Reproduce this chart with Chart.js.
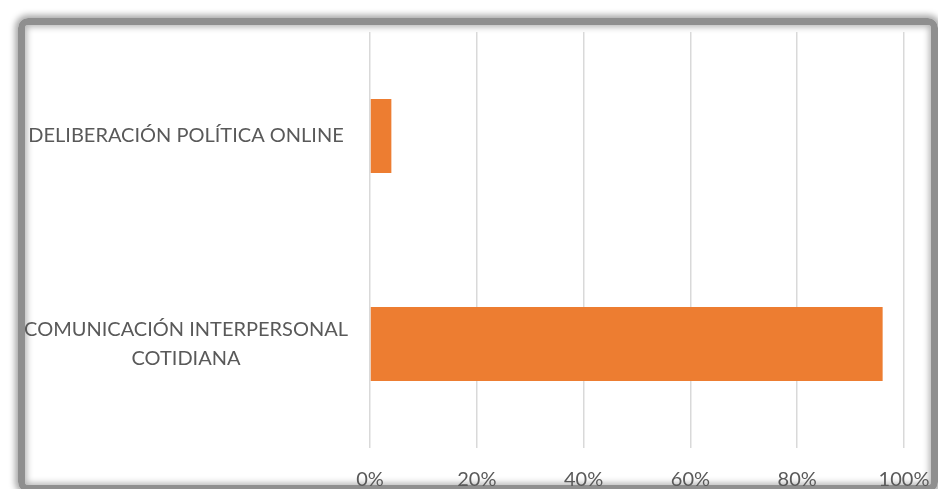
<!DOCTYPE html>
<html>
<head>
<meta charset="utf-8">
<script src="https://cdn.jsdelivr.net/npm/chart.js@4/dist/chart.umd.min.js"></script>
<style>
  html, body { margin: 0; padding: 0; background: #fff; overflow: hidden; }
  #wrap { position: relative; width: 938px; height: 489px; }
  #frame {
    position: absolute; left: 18px; top: 18px; width: 906px; height: 460px;
    border: 7px solid #8f8f8f; border-radius: 10px;
    box-shadow: 0 0 6px 3px #a8a8a8, inset 0 0 6px 2px #b5b5b5;
  }
  #chart { position: absolute; left: 0; top: 0; }
</style>
</head>
<body>
<div id="wrap">
  <div id="frame"></div>
  <canvas id="chart" width="938" height="489"></canvas>
</div>
<script>
// categories, top to bottom
var categories = ["DELIBERACIÓN POLÍTICA ONLINE", ["COMUNICACIÓN INTERPERSONAL", "COTIDIANA"]];
// share of responses, in percent
var shares = [4, 96];

var ctx = document.getElementById("chart");
var chart = new Chart(ctx, {
  type: 'bar',
  data: {
    labels: categories,
    datasets: [
      {
        data: shares,
        backgroundColor: "#ED7D31",
        categoryPercentage: 1,
        barPercentage: 0.355
      }
    ]
  },
  options: {
    indexAxis: 'y',
    responsive: false,
    animation: false,
    layout: { padding: { top: 32, right: 34, left: 0, bottom: 0 } },
    plugins: { legend: { display: false }, tooltip: { enabled: false } },
    scales: {
      x: {
        min: 0,
        max: 100,
        ticks: {
          stepSize: 20,
          padding: 20,
          color: "#595959",
          font: { family: "Lato", size: 20 },
          callback: function (v) { return v + "%"; }
        },
        grid: { color: "#d9d9d9", lineWidth: 1.5, drawTicks: false },
        border: { display: false },
        afterFit: function (scale) {
          scale.height = 41;
          scale.paddingLeft = 0;
          scale.paddingRight = 0;
        }
      },
      y: {
        ticks: {
          crossAlign: 'center',
          padding: 22,
          color: "#595959",
          font: { family: "Lato", size: 20, lineHeight: 1.45 }
        },
        grid: { display: false, drawTicks: false },
        border: { display: false },
        afterFit: function (scale) {
          scale.width = 370;
          scale.paddingTop = 0;
          scale.paddingBottom = 0;
        }
      }
    }
  }
});
</script>
</body>
</html>
